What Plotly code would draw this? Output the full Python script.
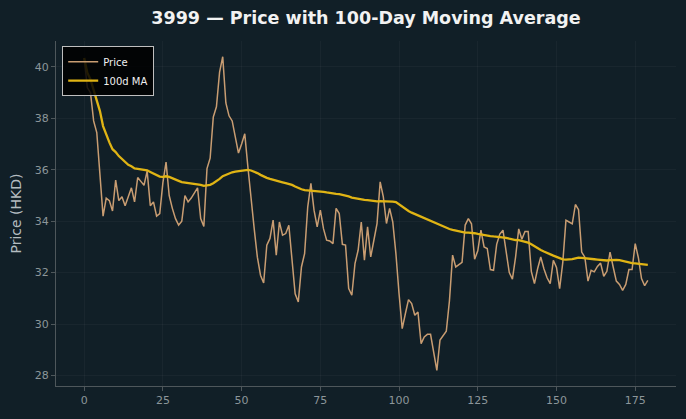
import plotly.graph_objects as go
import pandas as pd

title_text = "3999 — Price with 100-Day Moving Average"
y_title = "Price (HKD)"
series_names = ["Price", "100d MA"]
ma_window = 100

x_ticks = [0, 25, 50, 75, 100, 125, 150, 175]
y_ticks = [28, 30, 32, 34, 36, 38, 40]

price = [
    40.35, 39.2, 39.0, 37.9, 37.45, 35.8, 34.2, 34.9, 34.8, 34.4,
    35.6, 34.8, 34.95, 34.6, 34.95, 35.3, 34.75, 35.7, 35.55, 35.4,
    35.95, 34.6, 34.75, 34.2, 34.3, 35.5, 36.3, 35.0, 34.5, 34.1,
    33.85, 34.0, 35.0, 34.75, 34.9, 35.1, 35.3, 34.1, 33.8, 36.05,
    36.45, 38.05, 38.45, 39.8, 40.4, 38.6, 38.1, 37.9, 37.2, 36.65,
    37.0, 37.4, 36.1, 34.8, 33.7, 32.6, 31.9, 31.6, 33.07, 33.33,
    34.04, 32.68, 33.97, 33.46, 33.52, 33.84, 32.48, 31.18, 30.86, 32.22,
    32.74, 34.56, 35.47, 34.43, 33.78, 34.43, 33.71, 33.26, 33.23, 33.13,
    34.5, 34.3, 33.1, 33.07, 31.38, 31.12, 32.35, 32.87, 33.97, 32.48,
    33.78, 32.61, 33.26, 33.91, 35.53, 34.95, 33.91, 34.5, 33.97, 32.74,
    31.18, 29.82, 30.4, 30.95, 30.8, 30.34, 30.47, 29.24, 29.5, 29.6,
    29.6, 28.95, 28.2, 29.38, 29.56, 29.72, 30.9, 32.68, 32.22, 32.3,
    32.4, 33.85, 34.1, 33.9, 32.52, 32.85, 33.65, 33.0, 32.94, 32.12,
    32.09, 33.1, 33.5, 33.65, 32.8, 32.0, 31.75, 32.6, 33.7, 33.3,
    33.6, 33.6, 32.05, 31.57, 32.15, 32.61, 32.15, 31.8, 31.57, 32.48,
    32.2, 31.38, 32.4, 34.04, 33.97, 33.9, 34.65, 34.45, 32.8, 32.6,
    31.67, 32.09, 32.03, 32.24, 32.37, 31.86, 32.05, 32.8, 32.22, 31.67,
    31.54, 31.31, 31.54, 32.12, 32.12, 33.13, 32.58, 31.77, 31.49, 31.7,
]
day = list(range(len(price)))
ma = pd.Series(price).rolling(ma_window, min_periods=1).mean().tolist()

bg = "#111f27"
grid = "rgba(255,255,255,0.035)"
spine = "#4e575b"
tickc = "#8c969a"

fig = go.Figure()
fig.add_trace(go.Scatter(x=day, y=price, mode="lines", name=series_names[0],
                         line=dict(color="#c99d72", width=1.5)))
fig.add_trace(go.Scatter(x=day, y=ma, mode="lines", name=series_names[1],
                         line=dict(color="#e0b414", width=2.3)))

fig.update_layout(
    width=686, height=419,
    paper_bgcolor=bg, plot_bgcolor=bg,
    margin=dict(l=56, r=10, t=41, b=33),
    font=dict(family="DejaVu Sans", color=tickc, size=11),
    title=dict(text="<b>" + title_text + "</b>", x=0.5, xref="paper",
               y=1 - 18 / 419, yref="container", yanchor="middle",
               font=dict(family="DejaVu Sans", size=17.5, color="#f2f2f2")),
    showlegend=True,
    legend=dict(x=0.01, y=0.985, xanchor="left", yanchor="top",
                bgcolor="rgba(0,0,0,0.85)", bordercolor="#bfbfbf", borderwidth=1,
                font=dict(family="DejaVu Sans", size=10, color="#f0f0f0"),
                tracegroupgap=0, itemwidth=30),
    xaxis=dict(range=[-8.95, 187.95], tickvals=x_ticks, ticks="outside",
               ticklen=4, tickcolor=spine, showgrid=True, gridcolor=grid,
               zeroline=False, showline=True, linecolor=spine, linewidth=1,
               tickfont=dict(color=tickc, size=11), mirror=False),
    yaxis=dict(range=[27.59, 41.01], tickvals=y_ticks, ticks="outside",
               ticklen=4, tickcolor=spine, showgrid=True, gridcolor=grid,
               zeroline=False, showline=True, linecolor=spine, linewidth=1,
               tickfont=dict(color=tickc, size=11),
               title=dict(text=y_title, font=dict(size=14, color="#b4bcc0"), standoff=9)),
)

fig.write_html("out.html")
